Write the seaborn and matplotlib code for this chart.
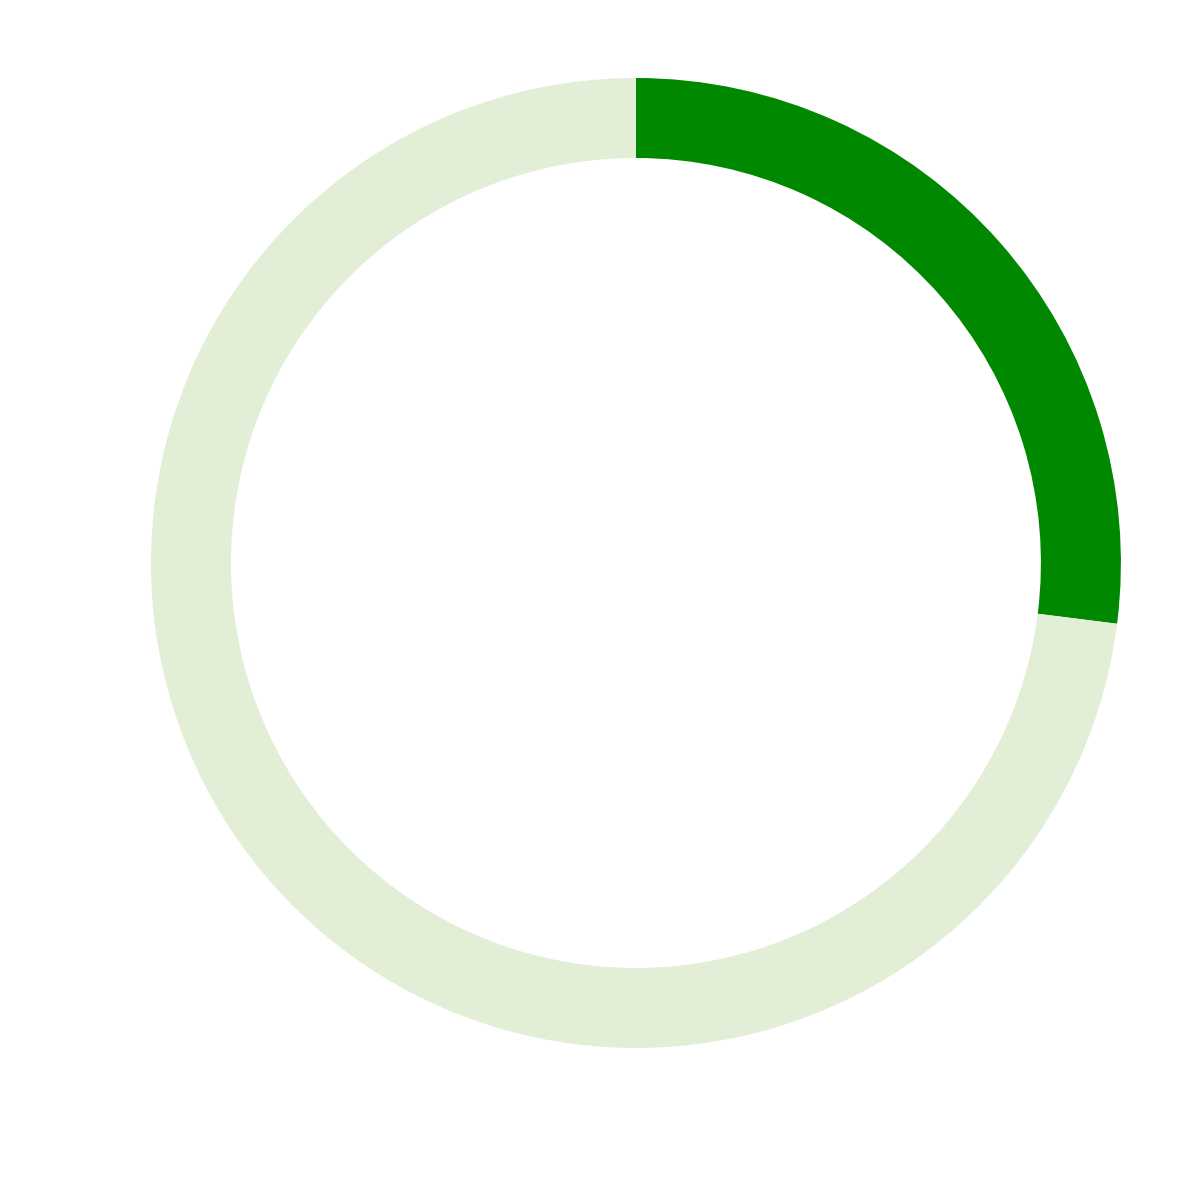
import matplotlib
matplotlib.use("Agg")
import matplotlib.pyplot as plt
import seaborn as sns

# Progress ring: filled share vs remainder
labels = ["Done", "Remaining"]
values = [27, 73]
colors = ["#008800", "#e2efd6"]

sns.set_theme(style="white")

fig = plt.figure(figsize=(12, 12), dpi=100)
# ring centre ~ (636, 563) px, outer radius ~485 px, band ~80 px
ax = fig.add_axes([0.1258, 0.1267, 0.8083, 0.8083])
ax.pie(values, colors=colors, startangle=90, counterclock=False,
       radius=1.0, wedgeprops=dict(width=80 / 485, linewidth=0))
ax.set_xlim(-1, 1)
ax.set_ylim(-1, 1)
ax.set_aspect("equal")
ax.axis("off")

fig.savefig("out.png", dpi=100, facecolor="white")
